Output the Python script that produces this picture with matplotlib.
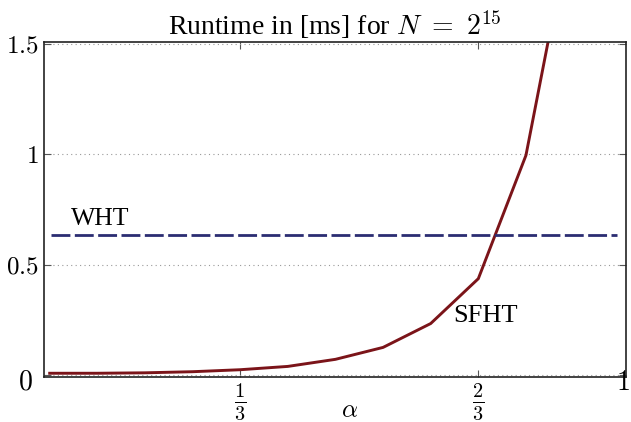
import matplotlib
matplotlib.use("Agg")
import matplotlib.pyplot as plt
import numpy as np

plt.rcParams['font.family'] = ['Liberation Serif', 'DejaVu Serif']
plt.rcParams['mathtext.fontset'] = 'cm'

# log2 K for N = 2^15, alpha = log2 K / 15
log2_k = [1, 2, 3, 4, 5, 6, 7, 8, 9, 10, 11, 12]
sfht_ms = [0.009, 0.009, 0.011, 0.016, 0.025, 0.04, 0.072, 0.126, 0.234, 0.437, 0.995, 2.1]
wht_ms = 0.635
n_exp = 15

y_ticks = [0, 0.5, 1, 1.5]
y_tick_labels = ['', '$0.5$', '$1$', '$1.5$']
x_ticks = [1 / 3, 2 / 3]
x_tick_labels = [r'$\frac{1}{3}$', r'$\frac{2}{3}$']

alpha = np.array(log2_k) / n_exp

fig = plt.figure(figsize=(6.31, 4.22), dpi=100)
ax = fig.add_axes([0.0697, 0.1066, 0.9223, 0.7939])

ax.plot(alpha, sfht_ms, color='#7b1419', linewidth=2.1, solid_joinstyle='miter')
ax.axhline(wht_ms, xmin=0.012, xmax=0.985, color='#2b2d72', linewidth=2.0,
           dashes=(6.8, 1.6))

ax.set_xlim(0.88 / n_exp, 13.1 / n_exp)
ax.set_ylim(-0.008, 1.508)

ax.set_yticks(y_ticks)
ax.set_yticklabels(y_tick_labels, fontsize=18)
ax.set_xticks(x_ticks)
ax.set_xticklabels(x_tick_labels, fontsize=21)
ax.tick_params(direction='in', length=5, width=0.8, color='#555555',
               top=True, right=True, pad=4)
ax.tick_params(axis='x', pad=3)
ax.grid(axis='y', linestyle=(0, (1, 3)), color='#999999', linewidth=0.8)

for s in ax.spines.values():
    s.set_linewidth(1.2)
    s.set_color('#222222')

ax.set_title(r'Runtime in [ms] for $N\ =\ 2^{15}$', fontsize=20, pad=5)
ax.set_xlabel(r'$\alpha$', fontsize=18)
ax.xaxis.set_label_coords(0.525, -0.07)

ax.text(0.137, 0.707, 'WHT', fontsize=18.5, ha='center', va='center')
ax.text(0.677, 0.27, 'SFHT', fontsize=19, ha='center', va='center')

# end labels of the alpha axis
fig.text(25 / 631, 1 - 383 / 422, '$0$', fontsize=20, ha='center', va='center')
fig.text(623 / 631, 1 - 383 / 422, '$1$', fontsize=20, ha='center', va='center')

fig.savefig('out.png', dpi=100)
